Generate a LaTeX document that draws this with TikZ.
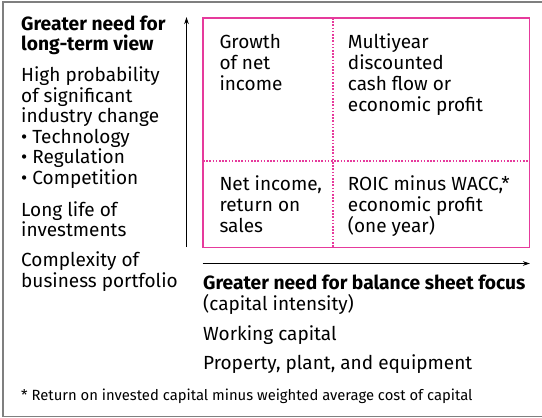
\documentclass[tikz,border=0pt]{standalone}
\usepackage{fontspec}
\setmainfont{Fira Sans}
\usetikzlibrary{arrows.meta}
\definecolor{framegray}{HTML}{7F7F7F}
\definecolor{quadpink}{HTML}{E63A9C}
\tikzset{
  txt/.style={anchor=base west, inner sep=0pt, font=\fontsize{19}{21}\selectfont},
  btxt/.style={txt, font=\fontsize{19.2}{21}\selectfont\bfseries},
  ftxt/.style={anchor=base west, inner sep=0pt, font=\fontsize{14.8}{17}\selectfont},
  axis/.style={line width=0.9pt, -{Stealth[length=7pt,width=4.5pt]}},
  quadbox/.style={draw=quadpink, line width=1.4pt},
  quaddiv/.style={draw=quadpink, line width=1.7pt, dash pattern=on 1.6pt off 1.6pt},
}
\begin{document}
\begin{tikzpicture}[x=1pt,y=-1pt]
\useasboundingbox (0,0) rectangle (542,418);
\draw[framegray, line width=1.5pt] (548,2) -- (3,2) -- (3,416.5) -- (548,416.5);
% quadrant box
\coordinate (qtl) at (203,18);
\coordinate (qbr) at (529.5,247.5);
\draw[quadbox] (qtl) rectangle (qbr);
\coordinate (vt) at (333.3,18);
\coordinate (vb) at (333.3,247.5);
\coordinate (hl) at (203,161);
\coordinate (hr) at (529.5,161);
\draw[quaddiv] (vt) -- (vb);
\draw[quaddiv] (hl) -- (hr);
% axes
\coordinate (ya) at (186.5,247);
\coordinate (yb) at (186.5,17);
\draw[axis] (ya) -- (yb);
\coordinate (xa) at (202.5,263.5);
\coordinate (xb) at (530,263.5);
\draw[axis] (xa) -- (xb);
% left text
\node[btxt] (l1) at (21,30.5) {Greater need for};
\node[btxt] (l2) at (21,50.7) {long-term view};
\node[txt] (l3) at (21,81.5) {High probability};
\node[txt] (l4) at (21,102.1) {of significant};
\node[txt] (l5) at (21,122.7) {industry change};
\node[txt] (l6) at (21,143.3) {• Technology};
\node[txt] (l7) at (21,163.9) {• Regulation};
\node[txt] (l8) at (21,184.5) {• Competition};
\node[txt] (l9) at (21,216.3) {Long life of};
\node[txt] (l10) at (21,236.7) {investments};
\node[txt] (l11) at (21,266.5) {Complexity of};
\node[txt] (l12) at (21,287) {business portfolio};
% quadrant texts
\node[txt] (a1) at (219.3,48.3) {Growth};
\node[txt] (a2) at (219.3,69.2) {of net};
\node[txt] (a3) at (219.3,90.1) {income};
\node[txt] (b1) at (347.7,48.3) {Multiyear};
\node[txt] (b2) at (347.7,69.2) {discounted};
\node[txt] (b3) at (347.7,90.1) {cash flow or};
\node[txt] (b4) at (347.7,111) {economic profit};
\node[txt] (c1) at (219.3,190.7) {Net income,};
\node[txt] (c2) at (219.3,211.6) {return on};
\node[txt] (c3) at (219.3,232.5) {sales};
\node[txt] (d1) at (347.7,190.7) {ROIC minus WACC,*};
\node[txt] (d2) at (347.7,211.6) {economic profit};
\node[txt] (d3) at (347.7,232.5) {(one year)};
% bottom text
\node[btxt] (x1) at (203,289.3) {Greater need for balance sheet focus};
\node[txt] (x2) at (203,310.5) {(capital intensity)};
\node[txt] (x3) at (203,340.7) {Working capital};
\node[txt] (x4) at (203,369) {Property, plant, and equipment};
% footnote
\node[ftxt] (fn) at (21,400.5) {* Return on invested capital minus weighted average cost of capital};
\end{tikzpicture}
\end{document}
